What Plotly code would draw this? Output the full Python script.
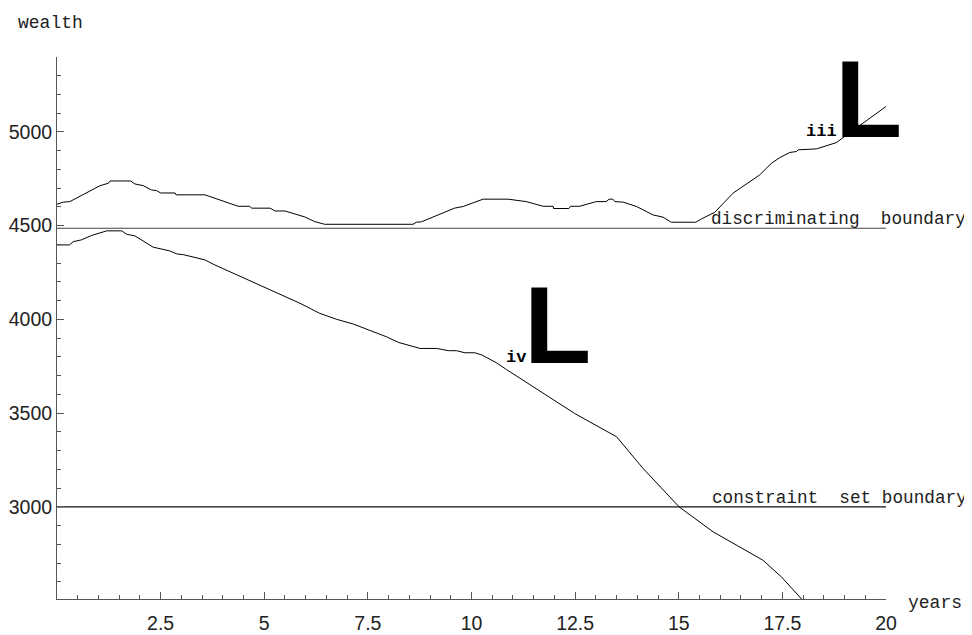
import plotly.graph_objects as go

# upper trajectory (iii)
t_upper = [0, 0.15, 0.31, 1.04, 1.24, 1.28, 1.78, 1.88, 2.08, 2.28, 2.40, 2.50, 2.85, 2.87,
           3.57, 3.77, 4.17, 4.37, 4.64, 4.70, 5.14, 5.26, 5.50, 5.98, 6.22, 6.46, 8.59,
           8.67, 8.79, 9.59, 9.80, 10.12, 10.28, 10.88, 11.32, 11.73, 11.97, 11.98, 12.35,
           12.39, 12.61, 13.01, 13.25, 13.32, 13.41, 13.46, 13.66, 13.98, 14.38, 14.62,
           14.82, 15.41, 15.55, 15.87, 16.31, 16.95, 17.24, 17.44, 17.68, 17.84, 17.88,
           18.32, 18.52, 18.81, 19.00, 19.45, 20.00]
w_upper = [4614, 4625, 4628, 4713, 4726, 4738, 4738, 4722, 4713, 4690, 4687, 4674, 4674, 4664,
           4664, 4649, 4616, 4603, 4603, 4593, 4593, 4578, 4578, 4546, 4521, 4507, 4507,
           4518, 4520, 4593, 4602, 4628, 4641, 4641, 4628, 4603, 4603, 4591, 4591,
           4603, 4603, 4628, 4628, 4641, 4641, 4628, 4625, 4602, 4557, 4545,
           4518, 4518, 4536, 4571, 4673, 4770, 4833, 4863, 4890, 4895, 4904,
           4909, 4922, 4943, 4975, 5046, 5135]

# lower trajectory (iv)
t_lower = [0, 0.30, 0.39, 0.59, 0.83, 1.12, 1.20, 1.56, 1.68, 1.88, 2.32, 2.72, 2.89, 3.05,
           3.57, 3.77, 5.86, 6.34, 6.75, 7.15, 7.95, 8.24, 8.76, 9.16, 9.44, 9.64, 9.84,
           10.08, 10.25, 10.60, 10.84, 12.49, 13.29, 13.50, 14.14, 15.01, 15.83, 17.03,
           17.48, 17.90, 18.00]
w_lower = [4397, 4397, 4414, 4424, 4447, 4465, 4472, 4472, 4454, 4445, 4385, 4365, 4349, 4345,
           4317, 4294, 4086, 4032, 4000, 3975, 3907, 3877, 3845, 3845, 3833, 3833, 3822,
           3822, 3810, 3769, 3733, 3498, 3400, 3374, 3205, 3000, 2867, 2716,
           2626, 2523, 2500]

discriminating_level = 4486
constraint_level = 3000
x_ticks = [2.5, 5, 7.5, 10, 12.5, 15, 17.5, 20]
x_tick_text = ["2.5", "5", "7.5", "10", "12.5", "15", "17.5", "20"]
y_ticks = [3000, 3500, 4000, 4500, 5000]
y_tick_text = ["3000", "3500", "4000", "4500", "5000"]

MONO = "Liberation Mono"
SANS = "Liberation Sans"

fig = go.Figure()
fig.add_trace(go.Scatter(x=[0, 20], y=[discriminating_level] * 2, mode="lines",
                         line=dict(color="#444", width=1.2), hoverinfo="skip"))
fig.add_trace(go.Scatter(x=[0, 20], y=[constraint_level] * 2, mode="lines",
                         line=dict(color="#111", width=1.2), hoverinfo="skip"))
fig.add_trace(go.Scatter(x=t_upper, y=w_upper, mode="lines",
                         line=dict(color="black", width=1)))
fig.add_trace(go.Scatter(x=t_lower, y=w_lower, mode="lines",
                         line=dict(color="black", width=1)))

ann = []
# boundary labels
ann.append(dict(x=15.83, y=discriminating_level, xref="x", yref="y", text="discriminating\u00a0 boundary",
                xanchor="left", yanchor="bottom", showarrow=False, yshift=-3, xshift=-4,
                font=dict(family=MONO, size=17.7, color="#222")))
ann.append(dict(x=15.85, y=constraint_level, xref="x", yref="y", text="constraint\u00a0 set boundary",
                xanchor="left", yanchor="bottom", showarrow=False, yshift=-3, xshift=-4,
                font=dict(family=MONO, size=17.7, color="#222")))
# trajectory labels with L glyphs
for (lx, ly, lab) in [(19.0, 4975, "iii"), (11.5, 3767, "iv")]:
    ann.append(dict(x=lx, y=ly, xref="x", yref="y", text="<b>L</b>", xanchor="left", yanchor="bottom",
                    showarrow=False, xshift=-12, yshift=-25,
                    font=dict(family=SANS, size=110, color="black")))
    ann.append(dict(x=lx, y=ly, xref="x", yref="y", text="<b>" + lab + "</b>", xanchor="right",
                    yanchor="bottom", showarrow=False, xshift=-6, yshift=-6,
                    font=dict(family=MONO, size=17, color="black")))
# axis labels
ann.append(dict(x=0, y=1.0, xref="paper", yref="paper", text="wealth", xanchor="left",
                yanchor="bottom", showarrow=False, xshift=-41, yshift=22,
                font=dict(family=MONO, size=18, color="#222")))
ann.append(dict(x=1.0, y=0, xref="paper", yref="paper", text="years", xanchor="left",
                yanchor="middle", showarrow=False, xshift=20, yshift=-4,
                font=dict(family=MONO, size=18, color="#222")))

fig.update_layout(
    width=964, height=627,
    margin=dict(l=49.4, r=85.8, t=49.3, b=36.3),
    paper_bgcolor="white", plot_bgcolor="white",
    showlegend=False,
    annotations=ann,
    xaxis=dict(range=[0, 20], showgrid=False, zeroline=False, showline=True, automargin=False,
               linecolor="#555", linewidth=1, ticks="inside", ticklen=7, tickcolor="#555",
               tickvals=x_ticks, ticktext=x_tick_text, ticklabelstandoff=7,
               tickfont=dict(family=SANS, size=19.5, color="#222"),
               minor=dict(dtick=0.5, tick0=0, ticks="inside", ticklen=4, tickcolor="#555", showgrid=False)),
    yaxis=dict(range=[2509, 5399], showgrid=False, zeroline=False, showline=True, automargin=False,
               linecolor="#555", linewidth=1, ticks="inside", ticklen=7, tickcolor="#555",
               tickvals=y_ticks, ticktext=y_tick_text,
               tickfont=dict(family=SANS, size=19.5, color="#222"),
               minor=dict(dtick=100, tick0=0, ticks="inside", ticklen=4, tickcolor="#555", showgrid=False)),
)

fig.write_html("out.html")
